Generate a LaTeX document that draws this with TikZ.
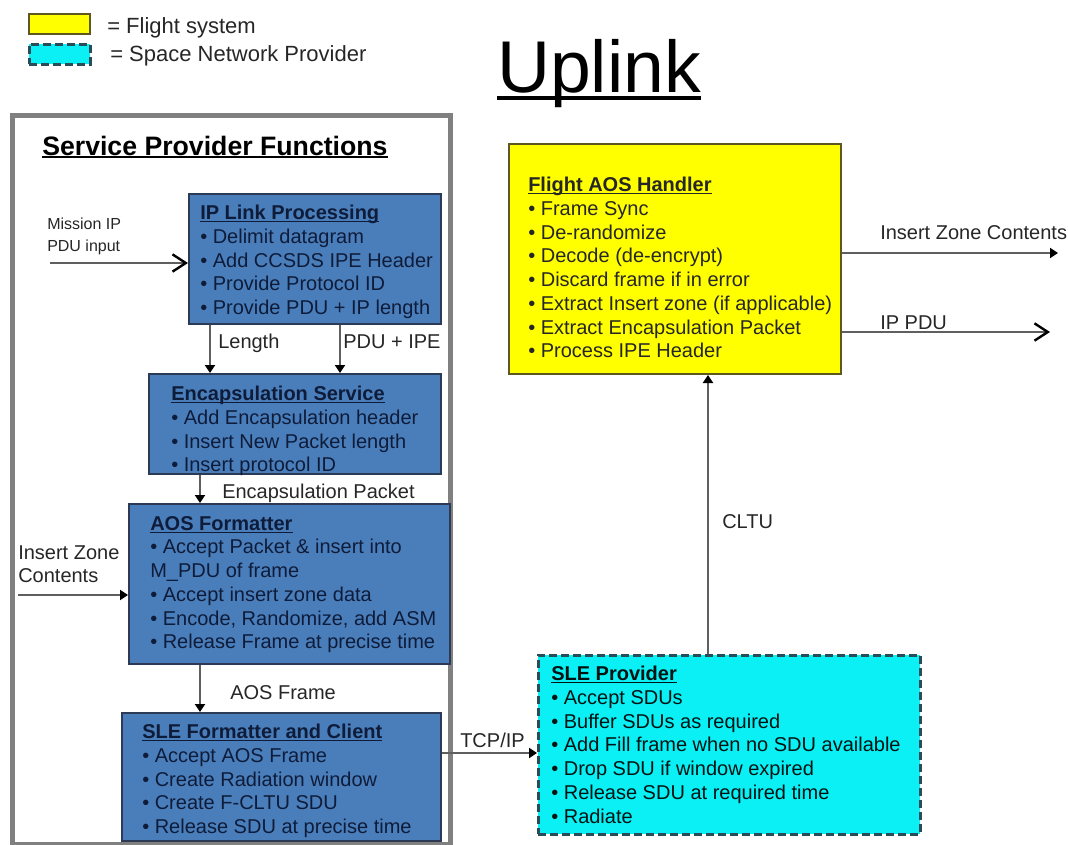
\documentclass[tikz,border=0pt]{standalone}
\usepackage{fontspec}
\setmainfont{Liberation Sans}
\usetikzlibrary{arrows.meta}
\definecolor{fnblue}{RGB}{74,126,187}
\definecolor{fnedge}{RGB}{44,58,86}
\definecolor{fntext}{RGB}{14,28,58}
\definecolor{flight}{RGB}{255,255,0}
\definecolor{flightedge}{RGB}{92,88,32}
\definecolor{snp}{RGB}{10,240,245}
\definecolor{snpedge}{RGB}{40,76,88}
\definecolor{framegray}{RGB}{128,128,128}
\definecolor{wiregray}{RGB}{95,95,95}
\tikzstyle{fn} = [draw=fnedge, fill=fnblue, line width=1.5pt, anchor=north west, inner sep=0pt]
\tikzstyle{flt} = [draw=flightedge, fill=flight, line width=1.5pt, anchor=north west, inner sep=0pt]
\tikzstyle{net} = [draw=snpedge, fill=snp, line width=2pt, dash pattern=on 6pt off 3pt, anchor=north west, inner sep=0pt]
\tikzstyle{body} = [anchor=north west, inner sep=0pt, align=left, font=\fontsize{15}{17.8}\selectfont]
\tikzstyle{lbl} = [anchor=base west, inner sep=0pt, text=black!85, font=\fontsize{15}{17.8}\selectfont]
\tikzstyle{wire} = [draw=wiregray, line width=1.6pt, -{Triangle[length=6pt,width=7.5pt,color=black]}]
\tikzstyle{openwire} = [draw=wiregray, line width=1.6pt, -{Straight Barb[length=10pt,width=13pt,line width=1.8pt,color=black]}]
\newsavebox{\hdbox}
\newcommand{\hd}[1]{\sbox{\hdbox}{\textbf{#1}}\usebox{\hdbox}\llap{\rule[-2pt]{\wd\hdbox}{1pt}}}
\newcommand{\bul}{\textbullet\ }

\begin{document}
\begin{tikzpicture}[x=0.75pt, y=0.75pt]
\useasboundingbox (0,0) rectangle (1068,-844);
% legend
\node[flt, minimum width=45.75pt, minimum height=15pt] (keyflt) at (28,-13) {};
\node[net, minimum width=45.75pt, minimum height=15pt] (keynet) at (28,-43) {};
\node[lbl, font=\fontsize{16.5}{19}\selectfont] (keyflttxt) at (107,-33) {= Flight system};
\node[lbl, font=\fontsize{16.5}{19}\selectfont] (keynettxt) at (110,-61) {= Space Network Provider};
% title
\node[anchor=base west, inner sep=0pt, font=\fontsize{55}{60}\selectfont] (uplink) at (497,-92) {Uplink};
\draw[line width=2.6pt] ([shift={(0,-6)}]uplink.base west) -- ([shift={(0,-6)}]uplink.base east);

% service provider side
\node[draw=framegray, line width=3.75pt, anchor=north west, inner sep=0pt, minimum width=328.5pt, minimum height=546.75pt] (spf) at (10,-113) {};
\node[anchor=base west, inner sep=0pt, font=\fontsize{20}{24}\selectfont] (spftxt) at (42,-155) {\hd{Service Provider Functions}};

\node[fn, minimum width=189pt, minimum height=97.5pt] (ip) at (188,-193) {};
\node[body, text=fntext] (iptxt) at ([shift={(12,-12)}]ip.north west) {\hd{IP Link Processing}\\
  \bul Delimit datagram\\
  \bul Add CCSDS IPE Header\\
  \bul Provide Protocol ID\\
  \bul Provide PDU + IP length};

\node[fn, minimum width=219pt, minimum height=75pt] (enc) at (148,-373) {};
\node[body, text=fntext] (enctxt) at ([shift={(23,-13)}]enc.north west) {\hd{Encapsulation Service}\\
  \bul Add Encapsulation header\\
  \bul Insert New Packet length\\
  \bul Insert protocol ID};

\node[fn, minimum width=240.75pt, minimum height=120pt] (aos) at (128,-503) {};
\node[body, text=fntext] (aostxt) at ([shift={(22,-13)}]aos.north west) {\hd{AOS Formatter}\\
  \bul Accept Packet \& insert into\\
  M\_PDU of frame\\
  \bul Accept insert zone data\\
  \bul Encode, Randomize, add ASM\\
  \bul Release Frame at precise time};

\node[fn, minimum width=239.25pt, minimum height=96pt] (sfmt) at (121,-712) {};
\node[body, text=fntext] (sfmttxt) at ([shift={(21,-12)}]sfmt.north west) {\hd{SLE Formatter and Client}\\
  \bul Accept AOS Frame\\
  \bul Create Radiation window\\
  \bul Create F-CLTU SDU\\
  \bul Release SDU at precise time};

% network provider and flight side
\node[net, minimum width=286.5pt, minimum height=134.25pt] (slep) at (537,-654) {};
\node[body, text=black!85!teal] (sleptxt) at ([shift={(14,-12)}]slep.north west) {\hd{SLE Provider}\\
  \bul Accept SDUs\\
  \bul Buffer SDUs as required\\
  \bul Add Fill frame when no SDU available\\
  \bul Drop SDU if window expired\\
  \bul Release SDU at required time\\
  \bul Radiate};

\node[flt, minimum width=249pt, minimum height=172.5pt] (fah) at (508,-143) {};
\node[body, text=black!85] (fahtxt) at ([shift={(20,-34)}]fah.north west) {\hd{Flight AOS Handler}\\
  \bul Frame Sync\\
  \bul De-randomize\\
  \bul Decode (de-encrypt)\\
  \bul Discard frame if in error\\
  \bul Extract Insert zone (if applicable)\\
  \bul Extract Encapsulation Packet\\
  \bul Process IPE Header};

% connectors
\node[anchor=north west, inner sep=0pt, align=left, text=black!85, font=\fontsize{12}{16.5}\selectfont] (misstxt) at (47,-218) {Mission IP\\PDU input};
\coordinate (missin) at (50,-263);
\draw[openwire] (missin) -- (missin -| ip.west);

\coordinate (lenout) at ([shift={(22,0)}]ip.south west);
\draw[wire] (lenout) -- (lenout |- enc.north);
\node[lbl] (lentxt) at (218,-348) {Length};
\coordinate (pduout) at ([shift={(152,0)}]ip.south west);
\draw[wire] (pduout) -- (pduout |- enc.north);
\node[lbl] (pdutxt) at (343,-348) {PDU + IPE};

\coordinate (encout) at ([shift={(52,0)}]enc.south west);
\draw[wire] (encout) -- (encout |- aos.north);
\node[lbl] (enctxt2) at (222,-498) {Encapsulation Packet};

\node[anchor=north west, inner sep=0pt, align=left, text=black!85, font=\fontsize{15}{17.25}\selectfont] (izltxt) at (18,-545) {Insert Zone\\Contents};
\coordinate (izin) at (18,-595);
\draw[wire] (izin) -- (izin -| aos.west);

\coordinate (aosout) at ([shift={(72,0)}]aos.south west);
\draw[wire] (aosout) -- (aosout |- sfmt.north);
\node[lbl] (aosfrtxt) at (230,-699) {AOS Frame};

\coordinate (tcpout) at ([shift={(0,-41)}]sfmt.north east);
\draw[wire] (tcpout) -- (tcpout -| slep.west);
\node[lbl] (tcptxt) at (460,-747) {TCP/IP};

\coordinate (cltuout) at ([shift={(171,0)}]slep.north west);
\draw[wire] (cltuout) -- (cltuout |- fah.south);
\node[lbl] (cltutxt) at (722,-528) {CLTU};

\coordinate (izout) at ([shift={(0,-110)}]fah.north east);
\coordinate (izend) at (1058,-253);
\draw[wire] (izout) -- (izend);
\node[lbl] (izrtxt) at (880,-239) {Insert Zone Contents};

\coordinate (pduo) at ([shift={(0,-189)}]fah.north east);
\coordinate (pduend) at (1050,-332);
\draw[openwire] (pduo) -- (pduend);
\node[lbl] (ippdutxt) at (880,-329) {IP PDU};
\end{tikzpicture}
\end{document}
